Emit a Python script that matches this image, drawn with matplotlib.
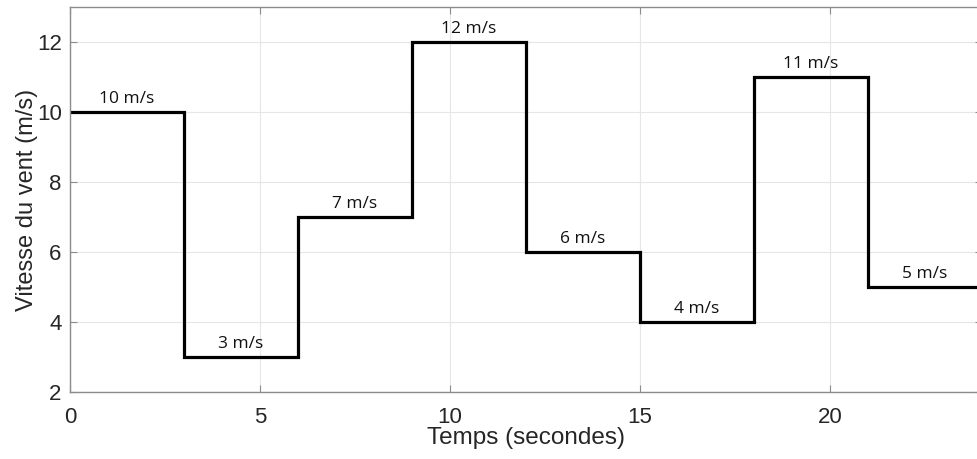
import matplotlib
matplotlib.use("Agg")
import matplotlib.pyplot as plt

# Data
t_start = [0, 3, 6, 9, 12, 15, 18, 21]
t_end = [3, 6, 9, 12, 15, 18, 21, 24]
speeds = [10, 3, 7, 12, 6, 4, 11, 5]
labels = ["10 m/s", "3 m/s", "7 m/s", "12 m/s", "6 m/s", "4 m/s", "11 m/s", "5 m/s"]
xticks = [0, 5, 10, 15, 20]
yticks = [2, 4, 6, 8, 10, 12]

fig = plt.figure(figsize=(9.77, 4.59), dpi=100)
ax = fig.add_axes([70/977, 1 - 392/459, (982-70)/977, (392-7)/459])

xs = t_start + [t_end[-1]]
ys = speeds + [speeds[-1]]
ax.step(xs, ys, where="post", color="black", lw=2.3, solid_joinstyle="miter")

for a, b, v, lab in zip(t_start, t_end, speeds, labels):
    ax.text((a + b) / 2, v + 0.25, lab, ha="center", va="baseline",
            fontsize=12.5, family=["Open Sans", "DejaVu Sans"], color="#111111")

ax.set_xlim(0, 24)
ax.set_ylim(2, 13)
ax.set_xticks(xticks)
ax.set_yticks(yticks)
ax.grid(True, color="#e6e6e6", lw=0.8)
ax.set_axisbelow(True)
for s in ax.spines.values():
    s.set_color("#8c8c8c")
    s.set_linewidth(1.0)
ax.tick_params(direction="in", length=5, color="#8c8c8c", labelsize=16,
               labelcolor="#262626", top=True, right=True)
ax.tick_params(axis="x", pad=11)
ax.tick_params(axis="y", pad=6)
for lab in ax.get_xticklabels() + ax.get_yticklabels():
    lab.set_family(["Liberation Sans", "DejaVu Sans"])
ax.set_xlabel("Temps (secondes)", fontsize=17.5, family=["Liberation Sans", "DejaVu Sans"],
              color="#262626", labelpad=-1)
ax.set_ylabel("Vitesse du vent (m/s)", fontsize=17, family=["Liberation Sans", "DejaVu Sans"],
              color="#262626", labelpad=-1)

fig.savefig("out.png", dpi=100)
